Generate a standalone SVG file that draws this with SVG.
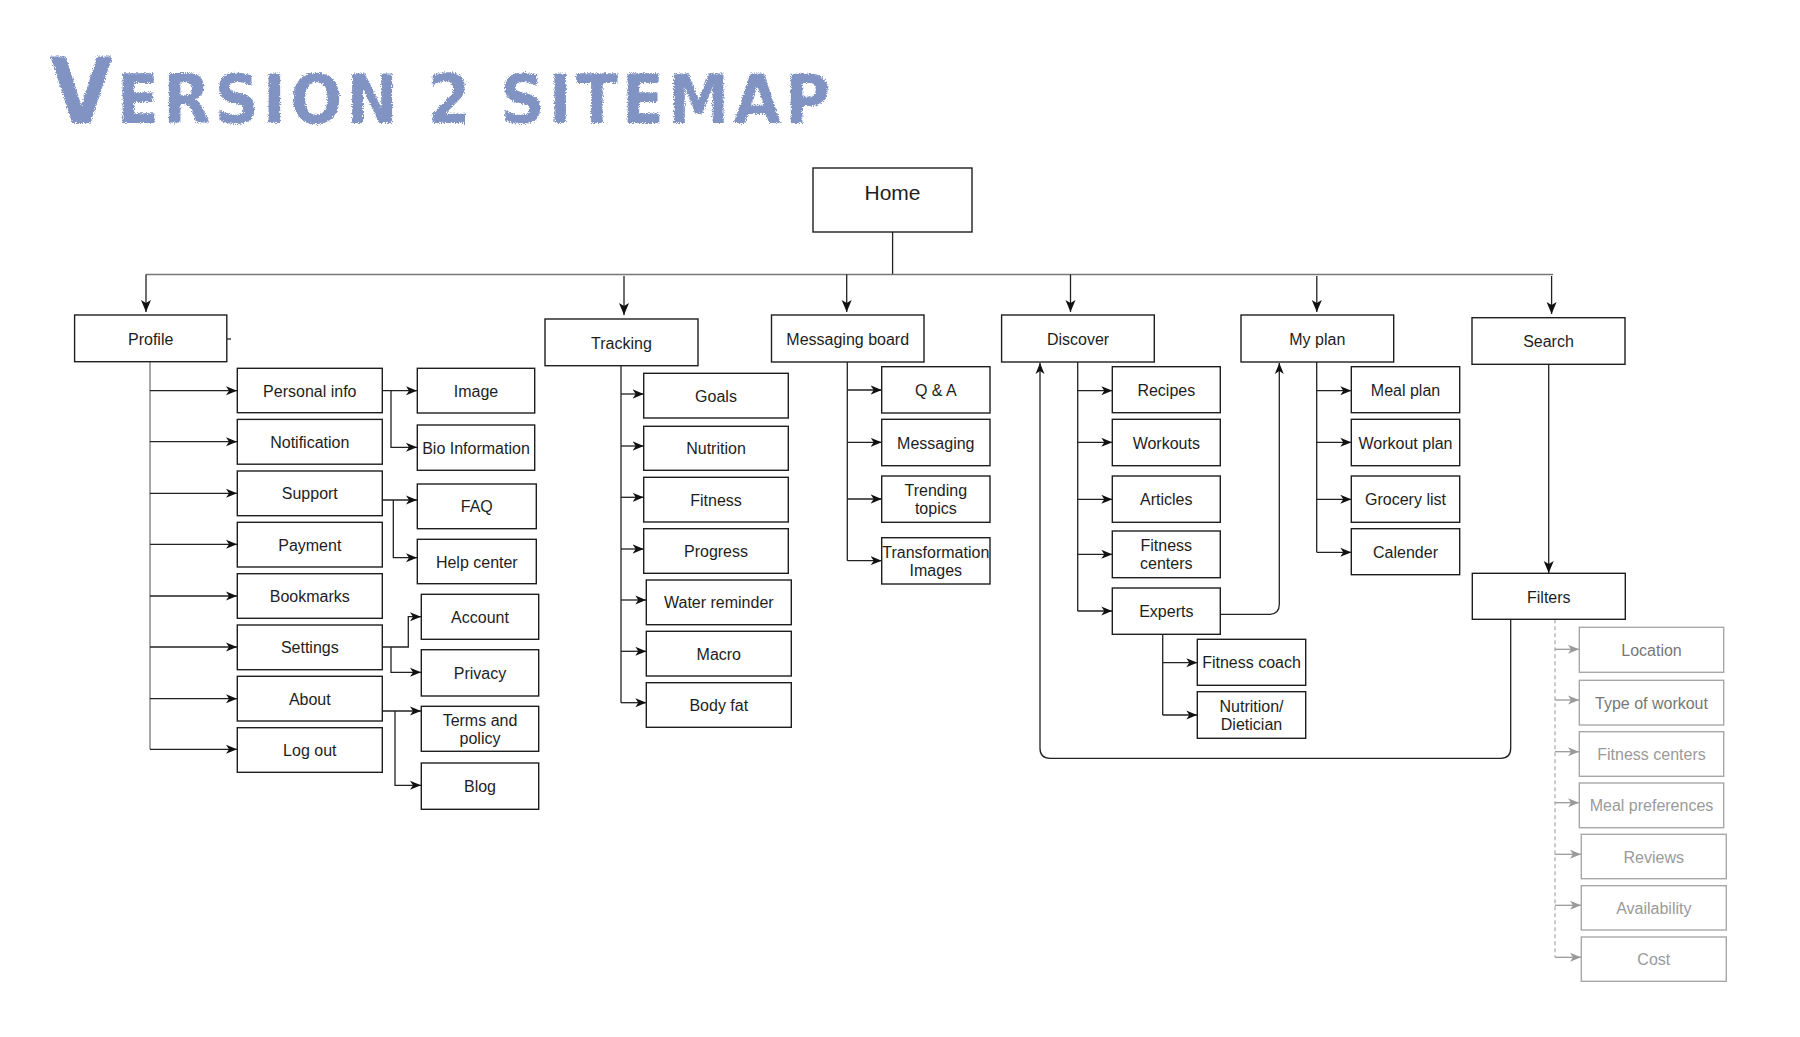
<svg xmlns="http://www.w3.org/2000/svg" width="1800" height="1037" viewBox="0 0 1800 1037">
<style>
.box{fill:#fff;stroke:#1e1e1e;stroke-width:1.4}
.gbox{fill:#fff;stroke:#a8a8a8;stroke-width:1.4}
.t{font-family:"Liberation Sans",Arial,sans-serif;font-size:16px;fill:#1e1e1e;text-anchor:middle}
.th{font-size:21px}
.gt{font-family:"Liberation Sans",Arial,sans-serif;font-size:16px;fill:#9a9a9a;text-anchor:middle}
.gt2{fill:#777}
.c{fill:none;stroke:#222;stroke-width:1.3}
.cm{fill:none;stroke:#777;stroke-width:1.3}
.gc{fill:none;stroke:#9a9a9a;stroke-width:1.3}
.gd{fill:none;stroke:#a8a8a8;stroke-width:1.2;stroke-dasharray:4 3}
.title{font-family:"DejaVu Sans Condensed","DejaVu Sans",sans-serif;font-weight:bold;font-stretch:condensed;fill:#8193c3}
</style>
<defs>
<marker id="a" markerUnits="userSpaceOnUse" markerWidth="11" markerHeight="11" refX="11" refY="5.5" orient="auto"><path d="M0,1 L11,5.5 L0,10 L3,5.5 z" fill="#111"/></marker>
<marker id="A" markerUnits="userSpaceOnUse" markerWidth="12" markerHeight="12" refX="12" refY="6" orient="auto"><path d="M0,1 L12,6 L0,11 L3,6 z" fill="#111"/></marker>
<marker id="g" markerUnits="userSpaceOnUse" markerWidth="11" markerHeight="11" refX="11" refY="5.5" orient="auto"><path d="M0,1 L11,5.5 L0,10 L3,5.5 z" fill="#9a9a9a"/></marker>
<filter id="rough" x="-5%" y="-20%" width="110%" height="140%"><feTurbulence type="fractalNoise" baseFrequency="0.9" numOctaves="2" seed="3" result="n"/><feDisplacementMap in="SourceGraphic" in2="n" scale="5" xChannelSelector="R" yChannelSelector="G"/></filter>
</defs>
<rect width="1800" height="1037" fill="#fff"/>

<text id="title" class="title" x="50" y="123" textLength="780" lengthAdjust="spacing" filter="url(#rough)"><tspan font-size="90">V</tspan><tspan font-size="68">ERSION 2 SITEMAP</tspan></text>

<g id="connectors">
  <!-- Home to top level -->
  <path class="c" d="M892.6,232 V274.5"/>
  <path class="cm" d="M146,274.5 H1553"/>
  <path class="c" d="M146,274.5 V312" marker-end="url(#A)"/>
  <path class="c" d="M624,276 V315" marker-end="url(#A)"/>
  <path class="c" d="M846.7,274.5 V312" marker-end="url(#A)"/>
  <path class="c" d="M1070.5,274.5 V312" marker-end="url(#A)"/>
  <path class="c" d="M1316.8,276 V312" marker-end="url(#A)"/>
  <path class="c" d="M1551.6,276 V314" marker-end="url(#A)"/>
  <path class="c" d="M227,339 H231" stroke-width="2"/>
  <!-- Profile -->
  <path class="cm" d="M150,362 V749.3"/>
  <path class="c" d="M150,390.7 H237" marker-end="url(#a)"/>
  <path class="c" d="M150,441.7 H237" marker-end="url(#a)"/>
  <path class="c" d="M150,493.3 H237" marker-end="url(#a)"/>
  <path class="c" d="M150,544.3 H237" marker-end="url(#a)"/>
  <path class="c" d="M150,596 H237" marker-end="url(#a)"/>
  <path class="c" d="M150,647 H237" marker-end="url(#a)"/>
  <path class="c" d="M150,698.7 H237" marker-end="url(#a)"/>
  <path class="c" d="M150,749.3 H237" marker-end="url(#a)"/>
  <!-- Profile level 2 -->
  <path class="c" d="M382.3,390.7 H417" marker-end="url(#a)"/>
  <path class="c" d="M391,390.7 V447.3 H417" marker-end="url(#a)"/>
  <path class="c" d="M382.3,500 H417" marker-end="url(#a)"/>
  <path class="c" d="M393.3,500 V557.7 H417" marker-end="url(#a)"/>
  <path class="c" d="M382.3,647 H408.3 V616.7 H421" marker-end="url(#a)"/>
  <path class="c" d="M391,647 V672.3 H421" marker-end="url(#a)"/>
  <path class="c" d="M382.3,711 H421" marker-end="url(#a)"/>
  <path class="c" d="M395,711 V785.3 H421" marker-end="url(#a)"/>
  <!-- Tracking -->
  <path class="c" d="M621,365.7 V702.7"/>
  <path class="c" d="M621,394 H643.7" marker-end="url(#a)"/>
  <path class="c" d="M621,446 H643.7" marker-end="url(#a)"/>
  <path class="c" d="M621,497.3 H643.7" marker-end="url(#a)"/>
  <path class="c" d="M621,549 H643.7" marker-end="url(#a)"/>
  <path class="c" d="M621,600 H646.3" marker-end="url(#a)"/>
  <path class="c" d="M621,651.3 H646.3" marker-end="url(#a)"/>
  <path class="c" d="M621,702.7 H646.3" marker-end="url(#a)"/>
  <!-- Messaging board -->
  <path class="c" d="M847.3,362 V560.7"/>
  <path class="c" d="M847.3,390 H881.7" marker-end="url(#a)"/>
  <path class="c" d="M847.3,442.3 H881.7" marker-end="url(#a)"/>
  <path class="c" d="M847.3,499 H881.7" marker-end="url(#a)"/>
  <path class="c" d="M847.3,560.7 H881.7" marker-end="url(#a)"/>
  <!-- Discover -->
  <path class="c" d="M1077.7,362 V611"/>
  <path class="c" d="M1077.7,390.7 H1112.3" marker-end="url(#a)"/>
  <path class="c" d="M1077.7,442.3 H1112.3" marker-end="url(#a)"/>
  <path class="c" d="M1077.7,499.3 H1112.3" marker-end="url(#a)"/>
  <path class="c" d="M1077.7,554.3 H1112.3" marker-end="url(#a)"/>
  <path class="c" d="M1077.7,611 H1112.3" marker-end="url(#a)"/>
  <path class="c" d="M1162.7,634.3 V715"/>
  <path class="c" d="M1162.7,662.7 H1197.3" marker-end="url(#a)"/>
  <path class="c" d="M1162.7,715 H1197.3" marker-end="url(#a)"/>
  <path class="c" d="M1220.3,614.3 H1269.3 Q1279.3,614.3 1279.3,604.3 V363" marker-end="url(#a)"/>
  <path class="c" d="M1510.7,619.3 V748.3 Q1510.7,758.3 1500.7,758.3 H1050 Q1040,758.3 1040,748.3 V363" marker-end="url(#a)"/>
  <!-- My plan -->
  <path class="c" d="M1316.7,362 V552.3"/>
  <path class="c" d="M1316.7,390.7 H1351.3" marker-end="url(#a)"/>
  <path class="c" d="M1316.7,442.3 H1351.3" marker-end="url(#a)"/>
  <path class="c" d="M1316.7,499.3 H1351.3" marker-end="url(#a)"/>
  <path class="c" d="M1316.7,552.3 H1351.3" marker-end="url(#a)"/>
  <!-- Search -->
  <path class="c" d="M1548.7,364.3 V573" marker-end="url(#A)"/>
  <!-- Filters -->
  <path class="gd" d="M1555,619.3 V957.3"/>
  <path class="gc" d="M1555,649.3 H1579" marker-end="url(#g)"/>
  <path class="gc" d="M1555,700 H1579" marker-end="url(#g)"/>
  <path class="gc" d="M1555,751.7 H1579" marker-end="url(#g)"/>
  <path class="gc" d="M1555,802.7 H1579" marker-end="url(#g)"/>
  <path class="gc" d="M1555,854.3 H1581" marker-end="url(#g)"/>
  <path class="gc" d="M1555,905.3 H1581" marker-end="url(#g)"/>
  <path class="gc" d="M1555,957.3 H1581" marker-end="url(#g)"/>
</g>

<g id="n-home"><rect class="box" x="813" y="168" width="159" height="64"/><text class="t th" x="892.5" y="200">Home</text></g>

<g id="n-profile"><rect class="box" x="74.6" y="315" width="152.2" height="46.7"/><text class="t" x="150.7" y="344.5">Profile</text></g>
<g id="n-tracking"><rect class="box" x="545" y="319" width="153" height="46.7"/><text class="t" x="621.5" y="348.5">Tracking</text></g>
<g id="n-messaging-board"><rect class="box" x="771.5" y="315" width="152.5" height="47"/><text class="t" x="847.7" y="344.5">Messaging board</text></g>
<g id="n-discover"><rect class="box" x="1001.6" y="315" width="152.7" height="47"/><text class="t" x="1078" y="344.5">Discover</text></g>
<g id="n-myplan"><rect class="box" x="1241" y="315" width="152.7" height="47"/><text class="t" x="1317.3" y="344.5">My plan</text></g>
<g id="n-search"><rect class="box" x="1472" y="317.7" width="153" height="46.6"/><text class="t" x="1548.5" y="347">Search</text></g>
<g id="n-filters"><rect class="box" x="1472.3" y="573.3" width="153" height="46"/><text class="t" x="1548.8" y="602.5">Filters</text></g>

<!-- Profile children -->
<g id="n-personal-info"><rect class="box" x="237.3" y="368.3" width="145" height="44.4"/><text class="t" x="309.8" y="396.5">Personal info</text></g>
<g id="n-notification"><rect class="box" x="237.3" y="419.4" width="145" height="44.8"/><text class="t" x="309.8" y="447.8">Notification</text></g>
<g id="n-support"><rect class="box" x="237.3" y="471" width="145" height="44.7"/><text class="t" x="309.8" y="499.3">Support</text></g>
<g id="n-payment"><rect class="box" x="237.3" y="522.3" width="145" height="44.7"/><text class="t" x="309.8" y="550.6">Payment</text></g>
<g id="n-bookmarks"><rect class="box" x="237.3" y="573.7" width="145" height="44.6"/><text class="t" x="309.8" y="602">Bookmarks</text></g>
<g id="n-settings"><rect class="box" x="237.3" y="625" width="145" height="44.7"/><text class="t" x="309.8" y="653.3">Settings</text></g>
<g id="n-about"><rect class="box" x="237.3" y="676.3" width="145" height="44.7"/><text class="t" x="309.8" y="704.6">About</text></g>
<g id="n-logout"><rect class="box" x="237.3" y="727.7" width="145" height="44.6"/><text class="t" x="309.8" y="756">Log out</text></g>

<g id="n-image"><rect class="box" x="417.3" y="368.3" width="117.4" height="44.7"/><text class="t" x="476" y="396.6">Image</text></g>
<g id="n-bio"><rect class="box" x="417.3" y="425" width="117.4" height="45.3"/><text class="t" x="476" y="453.6">Bio Information</text></g>
<g id="n-faq"><rect class="box" x="417.3" y="484" width="119" height="44.7"/><text class="t" x="476.8" y="512.3">FAQ</text></g>
<g id="n-help"><rect class="box" x="417.3" y="539.3" width="119" height="44.4"/><text class="t" x="476.8" y="567.5">Help center</text></g>
<g id="n-account"><rect class="box" x="421.3" y="594.3" width="117.4" height="45"/><text class="t" x="480" y="622.8">Account</text></g>
<g id="n-privacy"><rect class="box" x="421.3" y="649.7" width="117.4" height="46.3"/><text class="t" x="480" y="678.8">Privacy</text></g>
<g id="n-terms"><rect class="box" x="421.3" y="706.3" width="117.4" height="45"/><text class="t" x="480" y="725.8">Terms and</text><text class="t" x="480" y="743.8">policy</text></g>
<g id="n-blog"><rect class="box" x="421.3" y="763" width="117.4" height="46.3"/><text class="t" x="480" y="792.1">Blog</text></g>

<!-- Tracking children -->
<g id="n-goals"><rect class="box" x="643.7" y="373.3" width="144.6" height="44.7"/><text class="t" x="716" y="401.6">Goals</text></g>
<g id="n-nutrition"><rect class="box" x="643.7" y="426.3" width="144.6" height="44"/><text class="t" x="716" y="454.3">Nutrition</text></g>
<g id="n-fitness"><rect class="box" x="643.7" y="477.3" width="144.6" height="44.7"/><text class="t" x="716" y="505.6">Fitness</text></g>
<g id="n-progress"><rect class="box" x="643.7" y="528.7" width="144.6" height="44.6"/><text class="t" x="716" y="557">Progress</text></g>
<g id="n-water"><rect class="box" x="646.3" y="580" width="145" height="44.7"/><text class="t" x="718.8" y="608.3">Water reminder</text></g>
<g id="n-macro"><rect class="box" x="646.3" y="631.3" width="145" height="44.7"/><text class="t" x="718.8" y="659.6">Macro</text></g>
<g id="n-bodyfat"><rect class="box" x="646.3" y="682.7" width="145" height="44.6"/><text class="t" x="718.8" y="711">Body fat</text></g>

<!-- Messaging board children -->
<g id="n-qa"><rect class="box" x="881.7" y="366.7" width="108.3" height="46.3"/><text class="t" x="935.8" y="395.8">Q &amp; A</text></g>
<g id="n-messaging"><rect class="box" x="881.7" y="419.3" width="108.3" height="46.4"/><text class="t" x="935.8" y="448.5">Messaging</text></g>
<g id="n-trending"><rect class="box" x="881.7" y="476" width="108.3" height="46.3"/><text class="t" x="935.8" y="496">Trending</text><text class="t" x="935.8" y="514">topics</text></g>
<g id="n-transformation"><rect class="box" x="881.7" y="537.7" width="108.3" height="46.3"/><text class="t" x="935.8" y="558">Transformation</text><text class="t" x="935.8" y="576">Images</text></g>

<!-- Discover children -->
<g id="n-recipes"><rect class="box" x="1112.3" y="366.7" width="108" height="46"/><text class="t" x="1166.3" y="395.7">Recipes</text></g>
<g id="n-workouts"><rect class="box" x="1112.3" y="419.3" width="108" height="46.4"/><text class="t" x="1166.3" y="448.5">Workouts</text></g>
<g id="n-articles"><rect class="box" x="1112.3" y="476" width="108" height="46.3"/><text class="t" x="1166.3" y="505.2">Articles</text></g>
<g id="n-fitness-centers"><rect class="box" x="1112.3" y="531" width="108" height="46.7"/><text class="t" x="1166.3" y="551">Fitness</text><text class="t" x="1166.3" y="569">centers</text></g>
<g id="n-experts"><rect class="box" x="1112.3" y="588" width="108" height="46.3"/><text class="t" x="1166.3" y="617">Experts</text></g>
<g id="n-fitness-coach"><rect class="box" x="1197.3" y="639.3" width="108.4" height="46"/><text class="t" x="1251.5" y="668.3">Fitness coach</text></g>
<g id="n-nutrition-dietician"><rect class="box" x="1197.3" y="691.7" width="108.4" height="46.6"/><text class="t" x="1251.5" y="712">Nutrition/</text><text class="t" x="1251.5" y="730">Dietician</text></g>

<!-- My plan children -->
<g id="n-meal-plan"><rect class="box" x="1351.3" y="366.7" width="108.4" height="46"/><text class="t" x="1405.5" y="395.7">Meal plan</text></g>
<g id="n-workout-plan"><rect class="box" x="1351.3" y="419.3" width="108.4" height="46.4"/><text class="t" x="1405.5" y="448.5">Workout plan</text></g>
<g id="n-grocery"><rect class="box" x="1351.3" y="476" width="108.4" height="46.3"/><text class="t" x="1405.5" y="505.2">Grocery list</text></g>
<g id="n-calender"><rect class="box" x="1351.3" y="528.7" width="108.4" height="46"/><text class="t" x="1405.5" y="557.7">Calender</text></g>

<!-- Filters children -->
<g id="n-location"><rect class="gbox" x="1579.3" y="627.3" width="144.4" height="45"/><text class="gt gt2" x="1651.5" y="655.8">Location</text></g>
<g id="n-type-workout"><rect class="gbox" x="1579.3" y="680.3" width="144.4" height="44.7"/><text class="gt gt2" x="1651.5" y="708.6">Type of workout</text></g>
<g id="n-f-fitness-centers"><rect class="gbox" x="1579.3" y="731.7" width="144.4" height="44.6"/><text class="gt" x="1651.5" y="760">Fitness centers</text></g>
<g id="n-meal-pref"><rect class="gbox" x="1579.3" y="783" width="144.4" height="44.7"/><text class="gt" x="1651.5" y="811.3">Meal preferences</text></g>
<g id="n-reviews"><rect class="gbox" x="1581.3" y="834.3" width="145" height="44.4"/><text class="gt" x="1653.8" y="862.5">Reviews</text></g>
<g id="n-availability"><rect class="gbox" x="1581.3" y="885.7" width="145" height="44.3"/><text class="gt" x="1653.8" y="913.8">Availability</text></g>
<g id="n-cost"><rect class="gbox" x="1581.3" y="937" width="145" height="44.3"/><text class="gt" x="1653.8" y="965.2">Cost</text></g>
</svg>
